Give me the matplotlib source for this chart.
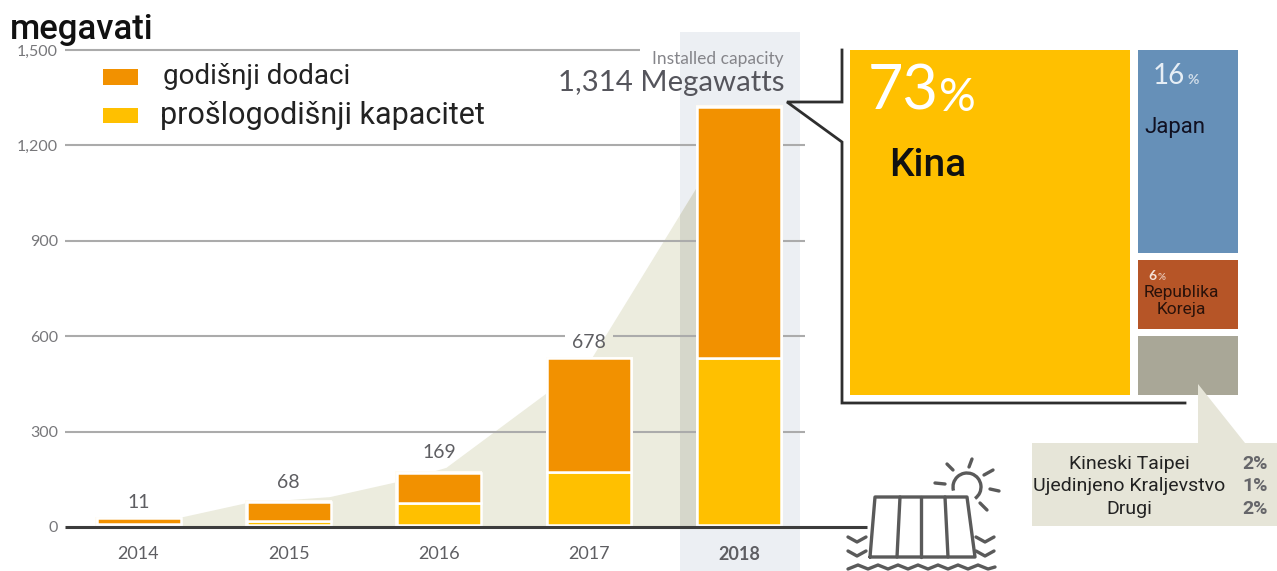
import matplotlib
matplotlib.use("Agg")
import matplotlib.pyplot as plt
import numpy as np
from matplotlib.patches import Rectangle, Polygon, Arc

W, H = 1277, 571

years = ["2014", "2015", "2016", "2017", "2018"]
base_gap = 5
prev_capacity = [3, 14, 70, 168, 525]
annual_additions = [19, 61, 96, 357, 792]
bar_labels = ["11", "68", "169", "678"]
y_ticks = [0, 300, 600, 900, 1200, 1500]
y_tick_labels = ["0", "300", "600", "900", "1,200", "1,500"]
wedge_x = [0.21, 0.72, 1.275, 1.73, 2.05, 2.72, 3.02, 3.72]
wedge_y = [22, 75, 94, 142, 186, 421, 531, 1069]

share_names = ["Kina", "Japan", "Republika\nKoreja", ""]
share_sizes = [74.8, 16.4, 5.6, 4.8]
other_names = ["Kineski Taipei", "Ujedinjeno Kraljevstvo", "Drugi"]
other_pcts = ["2%", "1%", "2%"]

ORANGE = "#F29100"
YELLOW = "#FFC000"
BLUE = "#6690B8"
RUST = "#B65527"
TAUPE = "#A9A797"
BEIGE = "#ECECDE"
GRID = "#ABABAB"
DARK = "#3C3C3C"
GREY = "#5E5E62"

fig = plt.figure(figsize=(W / 100, H / 100), dpi=100, facecolor="white")


def px_axes(z):
    a = fig.add_axes([0, 0, 1, 1], zorder=z)
    a.set_xlim(0, W)
    a.set_ylim(H, 0)
    a.axis("off")
    a.patch.set_alpha(0)
    return a


bg = px_axes(0)
top = px_axes(3)

# highlighted year band
bg.add_patch(Rectangle((680, 32), 120, H - 32, fc="#ECEFF3", ec="none"))

# main chart
ax = fig.add_axes([65 / W, 1 - 527 / H, 740 / W, 477 / H], zorder=2)
ax.patch.set_alpha(0)
x0, step = 138.5, 150.2
xl, xr = (65 - x0) / step, (805 - x0) / step
ax.set_xlim(xl, xr)
ax.set_ylim(0, 1500)
for s in ax.spines.values():
    s.set_visible(False)

poly = list(zip(wedge_x, wedge_y)) + [(wedge_x[-1], 0), (wedge_x[0], 0)]
ax.add_patch(Polygon(poly, fc=BEIGE, ec="none", zorder=1))
shade = Polygon(poly, fc="#D6D7CB", ec="none", zorder=1.1)
ax.add_patch(shade)
shade.set_clip_path(Rectangle(((680 - x0) / step, 0), 0.8, 1500, transform=ax.transData))

gap_l, gap_r = (565 - x0) / step, (613 - x0) / step
for v in y_ticks[1:]:
    if v == 600:
        ax.hlines(v, xl, gap_l, color=GRID, lw=1.5, zorder=2)
        ax.hlines(v, gap_r, xr, color=GRID, lw=1.5, zorder=2)
    elif v == 1500:
        ax.hlines(v, xl, (640 - x0) / step, color=GRID, lw=1.5, zorder=2, clip_on=False)
    else:
        ax.hlines(v, xl, xr, color=GRID, lw=1.5, zorder=2)

xs = np.arange(len(years))
prev = np.array(prev_capacity)
add = np.array(annual_additions)
ax.bar(xs, prev + add + base_gap + 6, width=87 / step, color="#FFFBF2", ec="none", zorder=3)
ax.bar(xs, prev, bottom=base_gap, width=84 / step, color=YELLOW, ec="white", lw=1.8, zorder=4)
ax.bar(xs, add, bottom=prev + base_gap, width=84 / step, color=ORANGE, ec="white", lw=1.8, zorder=4)

label_y = [503, 483, 453, 342]
for i, t in enumerate(bar_labels):
    ax.text(xs[i], (527 - label_y[i]) / 0.318, t, ha="center", va="center",
            fontsize=14, color=GREY, family="Lato", zorder=5)

ax.set_yticks(y_ticks, y_tick_labels, fontsize=11.5, color="#77777A", family="Lato")
ax.set_xticks(xs, years, fontsize=13, color=GREY, family="Lato")
ax.get_xticklabels()[-1].set_fontweight("bold")
ax.tick_params(axis="both", length=0)
ax.tick_params(axis="x", pad=14)
ax.tick_params(axis="y", pad=5)

# baseline
top.plot([65, 867], [527, 527], color=DARK, lw=2.2, solid_capstyle="butt")

# title, legend
top.text(10, 29, "megavati", fontsize=25, family="Roboto", weight="medium",
         color="#111111", ha="left", va="center")
top.add_patch(Rectangle((103, 69), 35, 16, fc=ORANGE, ec="none"))
top.add_patch(Rectangle((103, 108), 35, 15, fc=YELLOW, ec="none"))
top.text(163, 76, "godišnji dodaci", fontsize=20, family="Roboto", color="#222222", va="center")
top.text(160, 115, "prošlogodišnji kapacitet", fontsize=22, family="Roboto", color="#222222", va="center")

# installed capacity
top.text(784, 59, "Installed capacity", fontsize=12.5, family="Lato", color="#85858A", ha="right", va="center")
top.text(784, 83, "1,314 Megawatts", fontsize=21.2, family="Lato", color="#55555C", ha="right", va="center")

# callout lines
top.plot([842, 842, 787, 842, 842, 1185], [50, 102, 102, 142, 403, 403], color="#2E2E2E", lw=2.0,
         solid_joinstyle="miter")

# tree map
bx, by, tw, th, g = 850, 50, 388, 345, 8
total = sum(share_sizes)
big_w = (tw - g) * share_sizes[0] / total
top.add_patch(Rectangle((bx, by), big_w, th, fc=YELLOW, ec="none"))
rx = bx + big_w + g
col = share_sizes[1:]
col_colors = [BLUE, RUST, TAUPE]
y = by
for sz, c in zip(col, col_colors):
    h = (th - 2 * 7) * sz / sum(col)
    top.add_patch(Rectangle((rx, y), bx + tw - rx, h, fc=c, ec="none"))
    y += h + 7

top.text(868, 92, "73", fontsize=44, family="Lato", color="white", va="center")
top.text(939, 98, "%", fontsize=33, family="Lato", color="white", va="center")
top.text(889, 166, share_names[0], fontsize=28, family="Roboto", weight="medium", color="#111111", va="center")
top.text(1153, 76, "16", fontsize=20, family="Lato", color="#E6EEF5", va="center")
top.text(1187, 80, "%", fontsize=10, family="Lato", weight="bold", color="#CFDCE8", va="center")
top.text(1175, 128, share_names[1], fontsize=16, family="Roboto", color="#111122", ha="center", va="center")
top.text(1148, 276, "6", fontsize=10, family="Lato", weight="bold", color="#F4E2D8", va="center")
top.text(1158, 278, "%", fontsize=7, family="Lato", weight="bold", color="#E8C4B0", va="center")
top.text(1181, 301, share_names[2], fontsize=12.5, family="Roboto", color="#2A120A", ha="center", va="center",
         multialignment="center", linespacing=1.15)

# others call-out
top.add_patch(Polygon([(1198, 384), (1245, 443), (1277, 443), (1277, 526), (1032, 526), (1032, 443), (1198, 443)],
                      fc="#E6E5D8", ec="none"))
for name, pct, yy in zip(other_names, other_pcts, [464, 486, 509]):
    top.text(1129, yy, name, fontsize=14, family="Roboto", color="#222222", ha="center", va="center")
    top.text(1268, yy, pct, fontsize=14, family="Roboto", weight="bold", color="#66666A", ha="right", va="center")

# solar icon
ic = "#5A5A5A"
lk = dict(color=ic, lw=2.4, solid_capstyle="round", solid_joinstyle="round")
top.plot([870, 875, 967, 975, 870], [557, 497, 497, 557, 557], **lk)
for a, b in [(900, 897), (921, 921), (945, 948)]:
    top.plot([a, b], [497, 557], **lk)
top.add_patch(Arc((967, 487), 28, 28, theta1=165, theta2=55, color=ic, lw=2.4))
for (a, b), (c, d) in [((947, 464), (953, 470)), ((972, 459), (969, 467)), ((993, 470), (984, 475)),
                       ((990, 489), (999, 491)), ((980, 503), (987, 510)), ((935, 483), (945, 484))]:
    top.plot([a, c], [b, d], **lk)
for cx in (857, 985):
    for cy in (537, 551):
        top.plot([cx - 9, cx, cx + 9], [cy, cy + 5, cy], **lk)
top.plot([848, 858, 868, 878, 888, 898, 908, 918, 928, 938, 948, 958, 968, 978, 988, 995],
         [569, 565, 569, 565, 569, 565, 569, 565, 569, 565, 569, 565, 569, 565, 569, 567], **lk)

fig.savefig("out.png", dpi=100)
